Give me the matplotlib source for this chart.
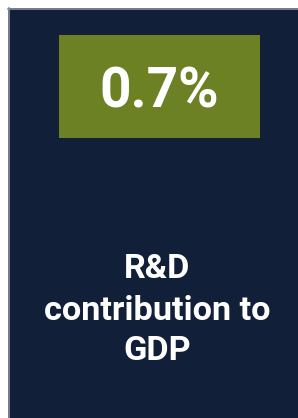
import matplotlib.pyplot as plt
from matplotlib.patches import Rectangle

## values shown on the card
value_text = "0.7%"
label_lines = ["R&D", "contribution to", "GDP"]

bg_color = '#121f38'
box_color = '#6b8123'
edge_color = '#8a8f99'

plt.rcParams['font.family'] = ['Roboto', 'DejaVu Sans']

fig = plt.figure(figsize=(2.98, 4.18), dpi=100, facecolor='white')
ax = fig.add_axes([0, 0, 1, 1])
ax.set_xlim(0, 298)
ax.set_ylim(418, 0)
ax.axis('off')

## card background with thin grey top/left edge
ax.add_patch(Rectangle((8, 8), 300, 420, facecolor=bg_color, edgecolor='none'))
ax.plot([8, 298], [8.5, 8.5], color=edge_color, lw=1.2)
ax.plot([8.5, 8.5], [8, 418], color=edge_color, lw=1.2)

## green value box
ax.add_patch(Rectangle((59, 35), 201, 103, facecolor=box_color, edgecolor='none'))
ax.text(159.5, 107, value_text, color='white', fontsize=39.5, fontweight='bold',
        ha='center', va='baseline')

## label, one line at a time
baselines = [278, 320, 360]
for line, yb in zip(label_lines, baselines):
    ax.text(157.5, yb, line, color='white', fontsize=24.7, fontweight='bold',
            ha='center', va='baseline')

fig.savefig('out.png', dpi=100, facecolor='white')
